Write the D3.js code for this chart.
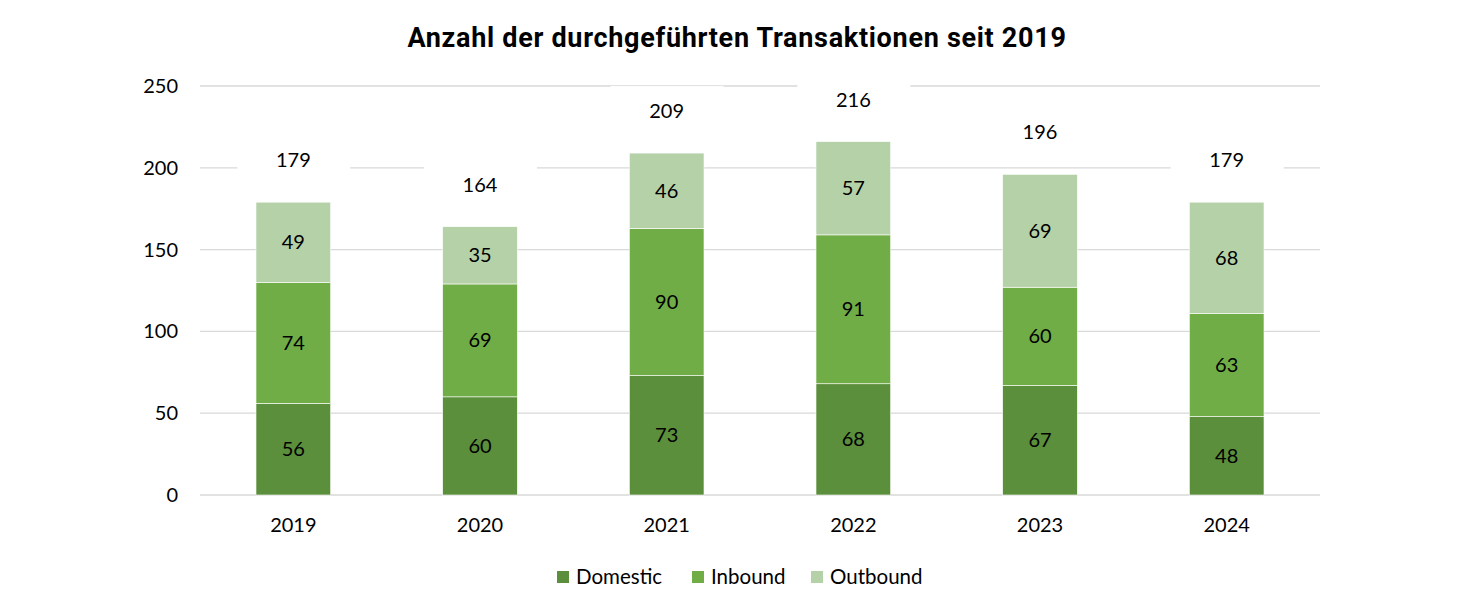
<!DOCTYPE html>
<html>
<head>
<meta charset="utf-8">
<script src="https://cdn.jsdelivr.net/npm/d3@7"></script>
<style>
  body { margin: 0; background: #fff; }
  svg text { font-family: "Lato", "Open Sans", sans-serif; fill: #000; }
</style>
</head>
<body>
<div id="chart"></div>
<script>
var years = ["2019", "2020", "2021", "2022", "2023", "2024"];
var domestic = [56, 60, 73, 68, 67, 48];
var inbound = [74, 69, 90, 91, 60, 63];
var outbound = [49, 35, 46, 57, 69, 68];
var totals = [179, 164, 209, 216, 196, 179];
var seriesNames = ["Domestic", "Inbound", "Outbound"];
var yTicks = [0, 50, 100, 150, 200, 250];

var W = 1481, H = 599;
var plotLeft = 200, plotRight = 1320, plotTop = 86, plotBottom = 495;
var colors = ["#5b8f3b", "#70ad47", "#b5d1a8"];
var fs = 20;

var svg = d3.select("#chart").append("svg").attr("width", W).attr("height", H);

var x = d3.scaleBand().domain(years).range([plotLeft, plotRight]).paddingInner(0.6).paddingOuter(0.3);
var y = d3.scaleLinear().domain([0, 250]).range([plotBottom, plotTop]);

// title
svg.append("text")
  .attr("x", 737).attr("y", 47)
  .attr("text-anchor", "middle")
  .attr("font-size", 27).attr("font-weight", "bold")
  .attr("letter-spacing", 0.7)
  .style("font-family", "Roboto, sans-serif")
  .text("Anzahl der durchgeführten Transaktionen seit 2019");

// grid
svg.append("g").selectAll("line").data(yTicks).enter().append("line")
  .attr("x1", plotLeft).attr("x2", plotRight)
  .attr("y1", function(d){ return y(d); }).attr("y2", function(d){ return y(d); })
  .attr("stroke", "#d9d9d9").attr("stroke-width", 1.3);

// y axis labels
svg.append("g").selectAll("text").data(yTicks).enter().append("text")
  .attr("x", 178).attr("y", function(d){ return y(d); })
  .attr("dy", "0.35em").attr("text-anchor", "end").attr("font-size", fs)
  .text(function(d){ return d; });

// stacked data
var rows = years.map(function(yr, i){
  return { year: yr, Domestic: domestic[i], Inbound: inbound[i], Outbound: outbound[i] };
});
var stack = d3.stack().keys(seriesNames)(rows);

var layers = svg.append("g").selectAll("g").data(stack).enter().append("g")
  .attr("fill", function(d, i){ return colors[i]; });

layers.selectAll("rect").data(function(d){ return d; }).enter().append("rect")
  .attr("x", function(d){ return x(d.data.year); })
  .attr("width", x.bandwidth())
  .attr("y", function(d){ return y(d[1]); })
  .attr("height", function(d){ return y(d[0]) - y(d[1]); })
  .attr("stroke", "#fff").attr("stroke-width", 0.6);

// segment labels
layers.selectAll("text").data(function(d){ return d; }).enter().append("text")
  .attr("x", function(d){ return x(d.data.year) + x.bandwidth() / 2; })
  .attr("y", function(d){ return (y(d[0]) + y(d[1])) / 2; })
  .attr("dy", "0.35em").attr("text-anchor", "middle").attr("font-size", fs)
  .text(function(d){ return d[1] - d[0]; });

// total labels with white background
var tot = svg.append("g").selectAll("g").data(years).enter().append("g")
  .attr("transform", function(d, i){
    return "translate(" + (x(d) + x.bandwidth() / 2) + "," + (y(totals[i]) - 42) + ")";
  });
tot.append("rect").attr("x", -56).attr("y", -25).attr("width", 113).attr("height", 50).attr("fill", "#fff");
tot.append("text").attr("dy", "0.35em").attr("text-anchor", "middle").attr("font-size", fs)
  .text(function(d, i){ return totals[i]; });

// x axis labels
svg.append("g").selectAll("text").data(years).enter().append("text")
  .attr("x", function(d){ return x(d) + x.bandwidth() / 2; })
  .attr("y", 525).attr("dy", "0.35em").attr("text-anchor", "middle").attr("font-size", fs)
  .text(function(d){ return d; });

// legend
var legendX = [557, 692, 811];
var lg = svg.append("g").selectAll("g").data(seriesNames).enter().append("g")
  .attr("transform", function(d, i){ return "translate(" + legendX[i] + ",577)"; });
lg.append("rect").attr("x", 0).attr("y", -6).attr("width", 12).attr("height", 12)
  .attr("fill", function(d, i){ return colors[i]; });
lg.append("text").attr("x", 19).attr("dy", "0.35em").attr("font-size", 20.5)
  .text(function(d){ return d; });
</script>
</body>
</html>
